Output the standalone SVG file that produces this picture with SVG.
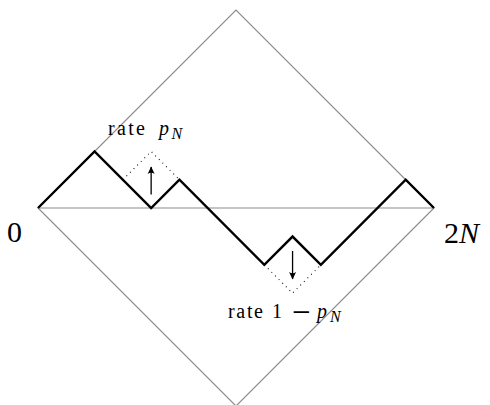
<svg xmlns="http://www.w3.org/2000/svg" width="490" height="405" viewBox="0 0 490 405">
<defs>
<style>
.frame{fill:none;stroke:#8c8c8c;stroke-width:1.2}
.path{fill:none;stroke:#000;stroke-width:2.4;stroke-linejoin:miter}
.dot{fill:none;stroke:#000;stroke-width:1.1;stroke-dasharray:0.9 4.2;stroke-linecap:butt}
.arr{fill:none;stroke:#000;stroke-width:1.3}
.t{font-family:'Liberation Serif','Times New Roman',serif;fill:#000}
.i{font-style:italic}
</style>
<marker id="ah" markerWidth="10" markerHeight="10" refX="8" refY="5" orient="auto" markerUnits="userSpaceOnUse">
<path d="M1,1.5 L8.5,5 L1,8.5 Q3.5,5 1,1.5 Z" fill="#000"/>
</marker>
</defs>
<rect width="490" height="405" fill="#fff"/>
<g id="frame">
<path class="frame" d="M38,208 L236,10 L434,208 L236,406 Z"/>
<line class="frame" x1="38" y1="208" x2="434" y2="208"/>
</g>
<g id="connectors">
<path id="walk" class="path" d="M38,208 L94.57,151.43 L151.14,208 L179.43,179.71 L264.29,264.86 L292.57,236.57 L320.86,264.86 L405.71,179.71 L434,208"/>
<path class="dot" d="M122.86,179.71 L151.14,151.43 L179.43,179.71"/>
<path class="dot" d="M264.29,264.86 L292.57,293.14 L320.86,264.86"/>
<line class="arr" x1="151.14" y1="194.5" x2="151.14" y2="167" marker-end="url(#ah)"/>
<line class="arr" x1="292.57" y1="251" x2="292.57" y2="279" marker-end="url(#ah)"/>
</g>
<g id="label-zero"><text class="t" x="7" y="242" font-size="30">0</text></g>
<g id="label-2N"><text class="t" x="444" y="243" font-size="30">2<tspan class="i">N</tspan></text></g>
<g id="label-up">
<text class="t" x="108" y="135" font-size="20" textLength="37" lengthAdjust="spacing">rate</text>
<text class="t i" x="159" y="135" font-size="20">p</text>
<text class="t i" x="171.5" y="139" font-size="16">N</text>
</g>
<g id="label-down">
<text class="t" x="228" y="318" font-size="20" textLength="35" lengthAdjust="spacing">rate</text>
<text class="t" x="272" y="318" font-size="20">1</text>
<text class="t" x="292" y="323" font-size="33">−</text>
<text class="t i" x="317" y="318" font-size="20">p</text>
<text class="t i" x="330" y="322" font-size="16">N</text>
</g>
</svg>
